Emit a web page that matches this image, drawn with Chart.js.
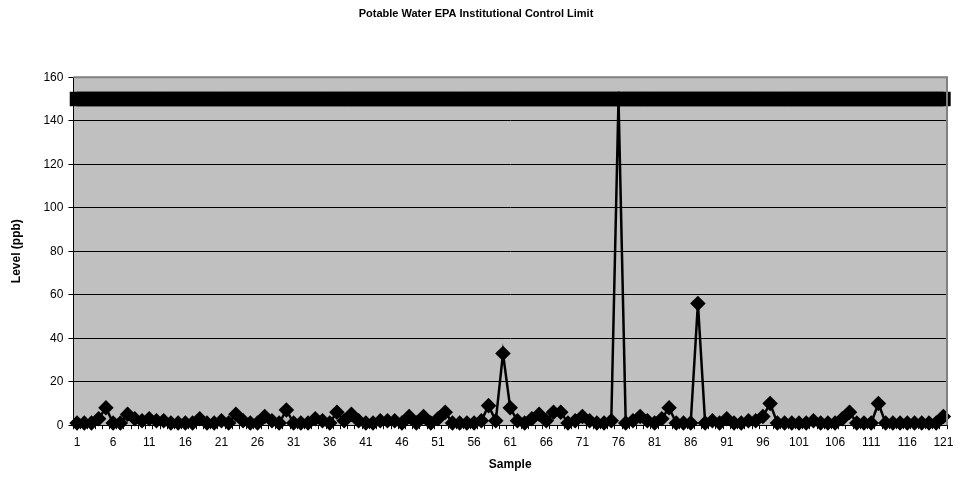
<!DOCTYPE html>
<html lang="en">
<head>
  <meta charset="UTF-8" />
  <title>Potable Water EPA Institutional Control Limit</title>
  <script src="https://cdn.jsdelivr.net/npm/chart.js"></script>
  <style>
    body { margin: 0; background: #fff; }
    .wrap { width: 961px; height: 487px; }
  </style>
</head>
<body>
<div class="wrap"><canvas id="waterChart"></canvas></div>
<script>
  const samples = Array.from({ length: 121 }, (_, i) => String(i + 1));
  const levels = [
    1, 1, 1, 3, 8, 1, 1, 5, 3, 2,
    3, 2, 2, 1, 1, 1, 1, 3, 1, 1,
    2, 1, 5, 2, 1, 1, 4, 2, 1, 7,
    1, 1, 1, 3, 2, 1, 6, 2, 5, 2,
    1, 1, 2, 2, 2, 1, 4, 1, 4, 1,
    3, 6, 1, 1, 1, 1, 2, 9, 2, 33,
    8, 2, 1, 3, 5, 2, 6, 6, 1, 2,
    4, 2, 1, 1, 2, 150, 1, 2, 4, 2,
    1, 3, 8, 1, 1, 1, 56, 1, 2, 1,
    3, 1, 1, 2, 2, 4, 10, 1, 1, 1,
    1, 1, 2, 1, 1, 1, 3, 6, 1, 1,
    1, 10, 1, 1, 1, 1, 1, 1, 1, 1,
    4
  ];
  const controlLimit = samples.map(() => 150);
  const yTicks = [0, 20, 40, 60, 80, 100, 120, 140, 160];

  const font = 'Liberation Sans, Arial, sans-serif';

  // gray plot area with a gray frame, like the original spreadsheet chart
  const plotArea = {
    id: 'plotArea',
    beforeDraw(chart) {
      const { ctx, chartArea: a } = chart;
      ctx.save();
      ctx.fillStyle = '#c0c0c0';
      ctx.fillRect(a.left, a.top, a.right - a.left, a.bottom - a.top);
      ctx.restore();
    },
    afterDatasetsDraw(chart) {
      const { ctx, chartArea: a } = chart;
      ctx.save();
      ctx.strokeStyle = '#808080';
      ctx.lineWidth = 2;
      ctx.beginPath();
      ctx.moveTo(a.left, a.top);
      ctx.lineTo(a.right, a.top);
      ctx.lineTo(a.right, a.bottom);
      ctx.stroke();
      ctx.restore();
    }
  };

  new Chart(document.getElementById('waterChart'), {
    type: 'line',
    data: {
      labels: samples,
      datasets: [
        {
          label: 'Level',
          data: levels,
          borderColor: '#000',
          backgroundColor: '#000',
          borderWidth: 2.5,
          pointStyle: 'rectRot',
          pointRadius: 6,
          pointHoverRadius: 6,
          tension: 0,
          clip: false,
          order: 2
        },
        {
          label: 'EPA Limit',
          data: controlLimit,
          borderColor: '#000',
          backgroundColor: '#000',
          borderWidth: 4,
          pointStyle: 'rect',
          pointRadius: 7.5,
          pointHoverRadius: 7.5,
          clip: false,
          order: 1
        }
      ]
    },
    options: {
      responsive: true,
      maintainAspectRatio: false,
      animation: false,
      layout: { padding: { top: 5, right: 14, left: 5, bottom: 11 } },
      plugins: {
        legend: { display: false },
        tooltip: { enabled: false },
        title: {
          display: true,
          text: 'Potable Water EPA Institutional Control Limit',
          color: '#000',
          font: { family: font, size: 11, weight: 'bold' },
          padding: { top: 2, bottom: 57 }
        }
      },
      scales: {
        x: {
          offset: true,
          grid: { display: true, drawOnChartArea: false, offset: true, color: '#000', tickLength: 4, tickColor: '#000' },
          border: { color: '#000', width: 1 },
          ticks: {
            autoSkip: false,
            maxRotation: 0,
            color: '#000',
            font: { family: font, size: 12 },
            padding: 6,
            callback: (v, i) => (i % 5 === 0 ? samples[i] : '')
          },
          title: {
            display: true,
            text: 'Sample',
            color: '#000',
            font: { family: font, size: 12, weight: 'bold' },
            padding: { top: 2 }
          }
        },
        y: {
          min: 0,
          max: 160,
          afterBuildTicks: axis => { axis.ticks = yTicks.map(v => ({ value: v })); },
          grid: { color: '#000', lineWidth: 1, tickLength: 5, tickColor: '#000' },
          border: { color: '#000', width: 1 },
          ticks: {
            color: '#000',
            font: { family: font, size: 12 },
            padding: 5
          },
          title: {
            display: true,
            text: 'Level (ppb)',
            color: '#000',
            font: { family: font, size: 12, weight: 'bold' },
            padding: { bottom: 15 }
          }
        }
      }
    },
    plugins: [plotArea]
  });
</script>
</body>
</html>
